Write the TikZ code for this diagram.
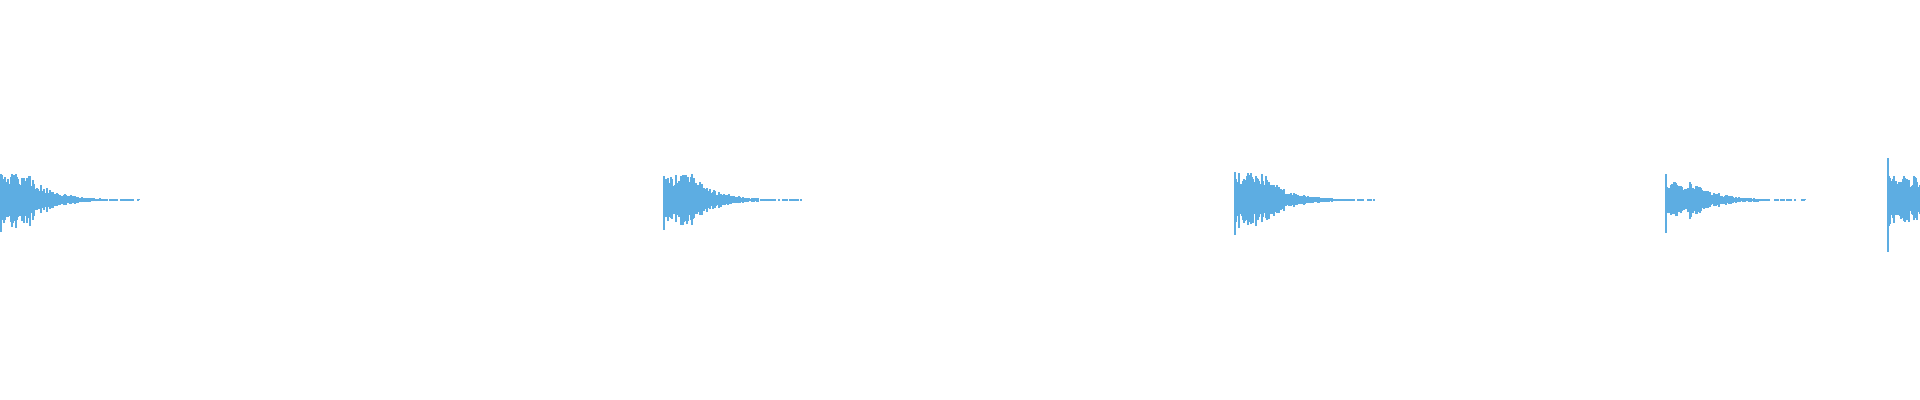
\documentclass[tikz,border=0pt]{standalone}
\definecolor{wave}{RGB}{93,173,226}
\begin{document}
\begin{tikzpicture}[x=0.01cm, y=0.01cm,
    sample/.style={draw=wave, line width=0.012cm}
  ]
  \useasboundingbox (0,0) rectangle (1920,400);
  \clip (0,0) rectangle (1920,400);
  \pgfmathsetseed{7}
  % onsets: start / peak height / spike
  \foreach \s/\a/\k in {0/26/32, 663/26/30, 1234/27/35, 1665/18/33, 1887/24/52} {
    \draw[sample] (\s+1,200-\k) -- (\s+1,200+\k*0.8);
    \foreach \i in {2,...,140} {
      \pgfmathsetmacro{\e}{\i<30 ? 1 : exp(-(\i-30)/22)}
      \pgfmathsetmacro{\h}{\a*\e*(0.45+0.55*rnd)+0.5}
      \pgfmathsetmacro{\g}{\h*(0.75+0.35*rnd)}
      \pgfmathsetmacro{\t}{(\i>95 && rnd<0.45) ? 0 : 1}
      \ifdim\t pt>0.5pt
        \draw[sample] (\s+\i,200-\g) -- (\s+\i,200+\h);
      \fi
    }
  }
\end{tikzpicture}
\end{document}
